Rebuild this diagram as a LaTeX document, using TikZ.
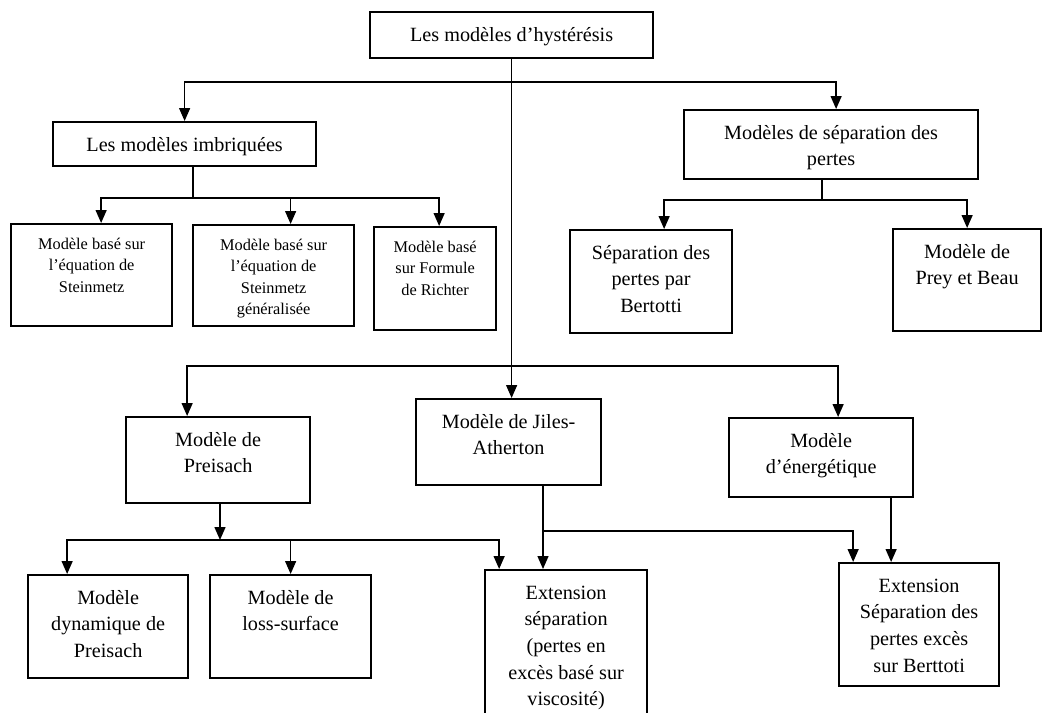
\documentclass[tikz,border=0pt]{standalone}
\usepackage{fontspec}
\setmainfont{Liberation Serif}
\usepackage{tikz}
\usetikzlibrary{arrows.meta, calc}

\newlength{\topgap}
% box text: width, height, lines (first baseline fixed by \topgap)
\newcommand{\boxtext}[3]{\begin{minipage}[t][#2][t]{#1}\centering\rule{0pt}{\topgap}#3\end{minipage}}
\newcommand{\bigtxt}{\fontsize{11.5}{15.2}\selectfont\setlength{\topgap}{0.58cm}}
\newcommand{\smalltxt}{\fontsize{9.3}{12.2}\selectfont\setlength{\topgap}{0.5cm}}

\begin{document}
\begin{tikzpicture}[
  x=0.02cm, y=-0.02cm,
  box/.style={rectangle, draw=black, line width=1.3pt, fill=white,
              inner sep=0pt, anchor=north west, font=\bigtxt},
  smallbox/.style={box, font=\smalltxt},
  arr/.style={-{Triangle[length=0.26cm,width=0.22cm]}, line width=0.8pt, black},
  link/.style={line width=0.8pt, black}
]
  \clip (0,0) rectangle (1042,713);
  \fill[white] (0,0) rectangle (1042,713);

  % top level
  \node[box] (root) at (369,11)  {\boxtext{5.66cm}{0.92cm}{Les modèles d’hystérésis}};
  \node[box] (imbr) at (52,121)  {\boxtext{5.26cm}{0.88cm}{Les modèles imbriquées}};
  \node[box] (sep)  at (683,109) {\boxtext{5.88cm}{1.38cm}{Modèles de séparation des\\pertes}};

  % second row
  \node[smallbox] (stein)  at (10,223)  {\boxtext{3.22cm}{2.04cm}{Modèle basé sur\\l’équation de\\Steinmetz}};
  \node[smallbox] (gstein) at (192,224) {\boxtext{3.22cm}{2.02cm}{Modèle basé sur\\l’équation de\\Steinmetz\\généralisée}};
  \node[smallbox] (richt)  at (373,226) {\boxtext{2.44cm}{2.06cm}{Modèle basé\\sur Formule\\de Richter}};
  \node[box] (bert) at (569,229) {\boxtext{3.24cm}{2.06cm}{Séparation des\\pertes par\\Bertotti}};
  \node[box] (prey) at (892,228) {\boxtext{2.96cm}{2.04cm}{Modèle de\\Prey et Beau}};

  % third row
  \node[box] (prei)  at (125,416) {\boxtext{3.68cm}{1.72cm}{Modèle de\\Preisach}};
  \node[box] (jiles) at (415,398) {\boxtext{3.70cm}{1.72cm}{Modèle de Jiles-\\Atherton}};
  \node[box] (ener)  at (728,417) {\boxtext{3.68cm}{1.58cm}{Modèle\\d’énergétique}};

  % bottom row
  \node[box] (dyn)  at (27,574)  {\boxtext{3.20cm}{2.06cm}{Modèle\\dynamique de\\Preisach}};
  \node[box] (loss) at (209,574) {\boxtext{3.22cm}{2.06cm}{Modèle de\\loss-surface}};
  \node[box] (ext1) at (484,569) {\boxtext{3.24cm}{3.40cm}{Extension\\séparation\\(pertes en\\excès basé sur\\viscosité)}};
  \node[box] (ext2) at (838,562) {\boxtext{3.20cm}{2.46cm}{Extension\\Séparation des\\pertes excès\\sur Berttoti}};

  % junctions
  \coordinate (j1) at (510.5,82);
  \coordinate (j2) at (510.5,366);
  \coordinate (j3) at (193,198);
  \coordinate (j4) at (822,200);
  \coordinate (j5) at (220,540);
  \coordinate (j6) at (543,531);

  % root branches
  \draw[arr] (root.south) -- (root.south |- jiles.north);
  \draw[arr] (j1) -| (imbr.north);
  \draw[arr] (j1) -| ([xshift=0.1cm]sep.north);
  \draw[arr] (j2) -| ([xshift=-0.62cm]prei.north);
  \draw[arr] (j2) -| ([xshift=0.34cm]ener.north);

  % imbriquees
  \draw[link] (imbr.south -| j3) -- (j3);
  \draw[arr] (j3) -| ([xshift=0.19cm]stein.north);
  \draw[arr] (j3) -| ([xshift=0.34cm]gstein.north);
  \draw[arr] (j3) -| ([xshift=0.08cm]richt.north);

  % separation
  \draw[link] (sep.south -| j4) -- (j4);
  \draw[arr] (j4) -| ([xshift=0.26cm]bert.north);
  \draw[arr] (j4) -| (prey.north);

  % preisach
  \draw[arr] (prei.south -| j5) -- (j5);
  \draw[arr] (j5) -| ([xshift=-0.82cm]dyn.north);
  \draw[arr] (j5) -| (loss.north);
  \draw[arr] (j5) -| ([xshift=-1.34cm]ext1.north);

  % jiles-atherton
  \draw[arr] (jiles.south -| j6) -- (j6 |- ext1.north);
  \draw[arr] (j6) -| ([xshift=-1.32cm]ext2.north);

  % energetique
  \draw[arr] ([xshift=1.4cm]ener.south) -- ([xshift=1.4cm]ener.south |- ext2.north);
\end{tikzpicture}
\end{document}
